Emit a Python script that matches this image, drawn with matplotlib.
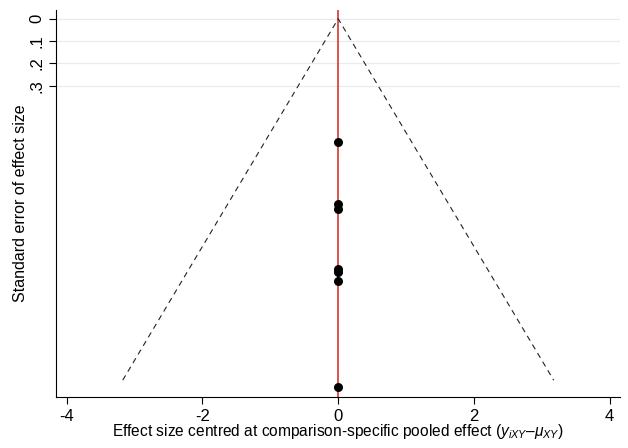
import matplotlib
matplotlib.use('Agg')
from matplotlib import pyplot as plt

plt.rcParams['font.family'] = ['Liberation Sans', 'DejaVu Sans']
plt.rcParams['mathtext.fontset'] = 'custom'
plt.rcParams['mathtext.rm'] = 'Liberation Sans'
plt.rcParams['mathtext.it'] = 'Liberation Sans:italic'
plt.rcParams['axes.unicode_minus'] = False

# centred effect sizes and their standard errors
effect = [0, 0, 0, 0, 0, 0, 0]
se = [0.552, 0.830, 0.852, 1.121, 1.135, 1.175, 1.650]
se_max = 1.62
z = 1.96
y_ticks = [0, 0.1, 0.2, 0.3]
y_labels = ['0', '.1', '.2', '.3']
x_ticks = [-4, -2, 0, 2, 4]

fig = plt.figure(figsize=(6.28, 4.48), dpi=100)
ax = fig.add_axes([0.089, 0.114, 0.898, 0.864])

for t in y_ticks:
    ax.axhline(t, color='#e6ecf0', lw=0.9, zorder=0)

ax.plot([-z * se_max, 0, z * se_max], [se_max, 0, se_max],
        ls=(0, (5, 4)), color='#222222', lw=0.8)
ax.axvline(0, color='#d9352f', lw=1.2, zorder=1)
ax.scatter(effect, se, s=30, color='black', zorder=3)

ax.set_xlim(-4.16, 4.15)
ax.set_ylim(1.695, -0.04)
ax.set_xticks(x_ticks)
ax.set_yticks(y_ticks)
ax.set_yticklabels(y_labels, rotation=90, va='center')
ax.tick_params(labelsize=12, length=5, width=0.8)

for s in ['top', 'right']:
    ax.spines[s].set_visible(False)

ax.set_ylabel('Standard error of effect size', fontsize=11.5, labelpad=1)
ax.set_xlabel(r'Effect size centred at comparison-specific pooled effect ($y_{iXY}$–$\mu_{XY}$)',
              fontsize=11.2, labelpad=-1)

fig.savefig('out.png', dpi=100)
